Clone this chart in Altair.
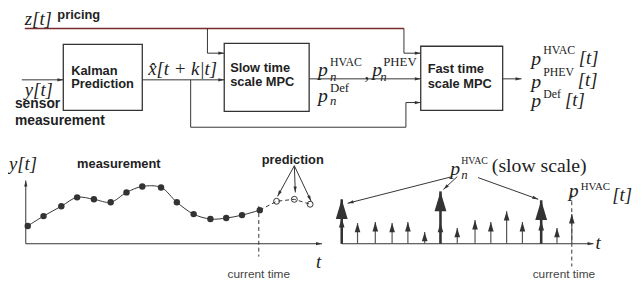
import math
import altair as alt
import pandas as pd

# ---------------- data (diagram drawn on the reference's pixel grid) ----------------
# block boxes
box_left = [64, 227, 426]
box_right = [144, 313, 509]
box_top = [43, 42, 45]
box_bottom = [110, 111, 110]

# pricing signal line (drawn in dark red)
pricing_path = [(25, 27), (409, 27)]

# connectors / axes that end with an arrow head
arrow_paths = {
    "price_fast": [(409, 27), (409, 52), (426, 52)],
    "price_slow": [(210, 27), (210, 52), (227, 52)],
    "y_in": [(22, 79), (64, 79)],
    "kal_slow": [(144, 79), (227, 79)],
    "kal_fast": [(193, 79), (193, 127), (411, 127), (411, 102), (426, 102)],
    "slow_fast": [(313, 78), (426, 78)],
    "fast_out": [(509, 78), (528, 78)],
    "axis_y": [(26, 245), (26, 181)],
    "axis_t1": [(26, 245), (326, 245)],
    "axis_t2": [(346, 245), (601, 245)],
    "pred1": [(298, 166), (281, 197)],
    "pred2": [(298, 166), (299, 193)],
    "pred3": [(298, 166), (315, 202)],
    "lab1": [(458, 177), (352, 204)],
    "lab2": [(463, 177), (449, 190)],
    "lab3": [(484, 178), (545, 200)],
}

# "current time" dashed markers
dashed_paths = {
    "now_left": [(262, 207), (262, 258)],
    "now_right": [(579, 195), (579, 268)],
}

# measured samples y[t] and predicted samples
meas_t = [28, 44, 62, 78, 95, 112, 128, 144, 163, 179, 196, 213, 229, 245, 263]
meas_y = [227, 217, 207, 198, 200, 203, 193, 187, 188, 203, 215, 220, 219, 216, 211]
pred_t = [280, 298, 314]
pred_y = [202, 200, 205]

# fast time-scale stems p^HVAC[t] and slow-scale stems p_n^HVAC
stem_base = 245
fast_t = [346, 362, 380, 397, 413, 430, 446, 463, 481, 497, 513, 529, 548, 564, 579]
fast_p = [219, 224, 223, 224, 223, 233, 224, 229, 221, 223, 212, 223, 222, 229, 215]
slow_t = [346, 446, 548]
slow_p = [200, 192, 201]

# texts: (text, x, baseline y, size)
bold_texts = [
    ("pricing", 58, 17.5, 13),
    ("Kalman", 72, 74, 13),
    ("Prediction", 72, 87, 13),
    ("Slow time", 233, 71, 13),
    ("scale MPC", 233, 85, 13),
    ("Fast time", 433, 72, 13),
    ("scale MPC", 433, 87, 13),
    ("sensor", 15, 108, 14),
    ("measurement", 15, 125, 14),
    ("measurement", 78, 168, 13),
    ("prediction", 265, 164, 13),
]
plain_texts = [
    ("current time", 262, 280, 12),
    ("current time", 571, 280, 12),
]
math_italic = [
    ("z[t]", 25, 23, 19),
    ("x\u0302[t + k|t]", 150, 74, 19),
    ("y[t]", 25, 95, 19),
    ("y[t]", 9, 170, 19),
    ("t", 320, 270, 19),
    ("t", 603, 250, 19),
    ("p", 322, 75, 20),
    ("p", 377, 75, 20),
    ("p", 322, 101, 20),
    ("n", 334, 80, 13),
    ("n", 385, 80, 13),
    ("n", 334, 104, 13),
    ("p", 538, 64, 20),
    ("p", 538, 87, 20),
    ("p", 538, 107, 20),
    ("[t]", 586, 63, 19),
    ("[t]", 585, 85, 19),
    ("[t]", 572, 106, 19),
    ("p", 456, 175, 20),
    ("n", 467, 179, 13),
    ("p", 576, 198, 20),
    ("[t]", 620, 202, 19),
]
math_upright = [
    (",", 369, 78, 19),
    ("HVAC", 334, 65, 12),
    ("PHEV", 388, 65, 13),
    ("Def", 334, 91, 13),
    ("HVAC", 550, 53, 12),
    ("PHEV", 550, 75, 12),
    ("Def", 550, 97, 12),
    ("HVAC", 467, 164, 10),
    ("(slow scale)", 498, 172, 20),
    ("HVAC", 588, 191, 11),
]

# ---------------- tables ----------------
def path_table(paths):
    rows = []
    for pid, pts in paths.items():
        for i, (px, py) in enumerate(pts):
            rows.append({"id": pid, "i": i, "x": px, "y": py})
    return pd.DataFrame(rows)

def head_table(paths):
    rows = []
    for pid, pts in paths.items():
        (xa, ya), (xb, yb) = pts[-2], pts[-1]
        ang = math.degrees(math.atan2(yb - ya, xb - xa)) % 360
        rows.append({"id": pid, "x": xb, "y": yb, "ang": ang})
    return pd.DataFrame(rows)

def text_table(items):
    return pd.DataFrame(items, columns=["text", "x", "y", "size"])

boxes = pd.DataFrame({"x0": box_left, "x1": box_right, "y0": box_top, "y1": box_bottom})
pricing_df = path_table({"pricing": pricing_path})
lines_df = path_table(arrow_paths)
heads_df = head_table(arrow_paths)
dashed_df = path_table(dashed_paths)
meas_df = pd.DataFrame({"i": range(len(meas_t)), "x": meas_t, "y": meas_y})
pred_line_df = pd.DataFrame({"i": range(len(pred_t) + 1),
                             "x": [meas_t[-1]] + pred_t, "y": [meas_y[-1]] + pred_y})
pred_df = pd.DataFrame({"x": pred_t, "y": pred_y})
fast_df = pd.DataFrame({"x": fast_t, "y": fast_p, "y2": [stem_base] * len(fast_t), "ang": 270})
slow_df = pd.DataFrame({"x": slow_t, "y": slow_p, "y2": [stem_base] * len(slow_t), "ang": 270})

xs = alt.Scale(domain=[8, 642], nice=False, zero=False)
ys = alt.Scale(domain=[8, 282], nice=False, zero=False, reverse=True)
X = lambda f="x": alt.X(f"{f}:Q", scale=xs, axis=None)
Y = lambda f="y": alt.Y(f"{f}:Q", scale=ys, axis=None)

DARK = "#333333"
ARROW = "M0,0L-2,-0.55L-2,0.55Z"
STEM_HEAD = "M0,0L-2,-0.6L-2,0.6Z"

layers = []
layers.append(alt.Chart(boxes).mark_rect(fill="white", stroke=DARK, strokeWidth=1.3).encode(
    x=X("x0"), x2="x1", y=Y("y0"), y2="y1"))
layers.append(alt.Chart(pricing_df).mark_line(color="#7a2b2b", strokeWidth=1.6).encode(
    x=X(), y=Y(), detail="id:N", order="i:Q"))
layers.append(alt.Chart(lines_df).mark_line(color=DARK, strokeWidth=1).encode(
    x=X(), y=Y(), detail="id:N", order="i:Q"))
layers.append(alt.Chart(dashed_df).mark_line(color=DARK, strokeWidth=1, strokeDash=[4, 3]).encode(
    x=X(), y=Y(), detail="id:N", order="i:Q"))
layers.append(alt.Chart(heads_df).mark_point(shape=ARROW, filled=True, color=DARK, opacity=1).encode(
    x=X(), y=Y(), angle=alt.Angle("ang:Q", scale=None), size=alt.value(36)))
# measurement curve + samples
layers.append(alt.Chart(meas_df).mark_line(color=DARK, strokeWidth=1, interpolate="catmull-rom").encode(
    x=X(), y=Y(), order="i:Q"))
layers.append(alt.Chart(pred_line_df).mark_line(color=DARK, strokeWidth=1, strokeDash=[4, 3]).encode(
    x=X(), y=Y(), order="i:Q"))
layers.append(alt.Chart(meas_df).mark_circle(color=DARK, opacity=1, size=42).encode(x=X(), y=Y()))
layers.append(alt.Chart(pred_df).mark_point(color=DARK, strokeWidth=1, size=36, filled=False, opacity=1).encode(
    x=X(), y=Y()))
# stems
layers.append(alt.Chart(fast_df).mark_rule(color="#555555", strokeWidth=1.2).encode(
    x=X(), y=Y(), y2="y2"))
layers.append(alt.Chart(slow_df).mark_rule(color=DARK, strokeWidth=2.6).encode(
    x=X(), y=Y(), y2="y2"))
layers.append(alt.Chart(fast_df).mark_point(shape=STEM_HEAD, filled=True, color=DARK, opacity=1).encode(
    x=X(), y=Y(), angle=alt.Angle("ang:Q", scale=None), size=alt.value(90)))
layers.append(alt.Chart(slow_df).mark_point(shape=STEM_HEAD, filled=True, color=DARK, opacity=1).encode(
    x=X(), y=Y(), angle=alt.Angle("ang:Q", scale=None), size=alt.value(400)))

# texts
def text_layer(items, **kw):
    return alt.Chart(text_table(items)).mark_text(align="left", baseline="alphabetic", **kw).encode(
        x=X(), y=Y(), text="text:N", size=alt.Size("size:Q", scale=None))

layers.append(text_layer(bold_texts, font="Liberation Sans", fontWeight="bold", color="#222222"))
layers.append(alt.Chart(text_table(plain_texts)).mark_text(
    align="center", baseline="alphabetic", font="Liberation Sans", color="#444444").encode(
    x=X(), y=Y(), text="text:N", size=alt.Size("size:Q", scale=None)))
layers.append(text_layer(math_italic, font="Liberation Serif", fontStyle="italic", color="#222222"))
layers.append(text_layer(math_upright, font="Liberation Serif", color="#222222"))

chart = alt.layer(*layers).properties(
    width=634, height=274, padding=0, autosize=alt.AutoSizeParams(type="none")
).configure_view(stroke=None)

chart.save("out.html", embed_options={"renderer": "svg", "actions": False})
